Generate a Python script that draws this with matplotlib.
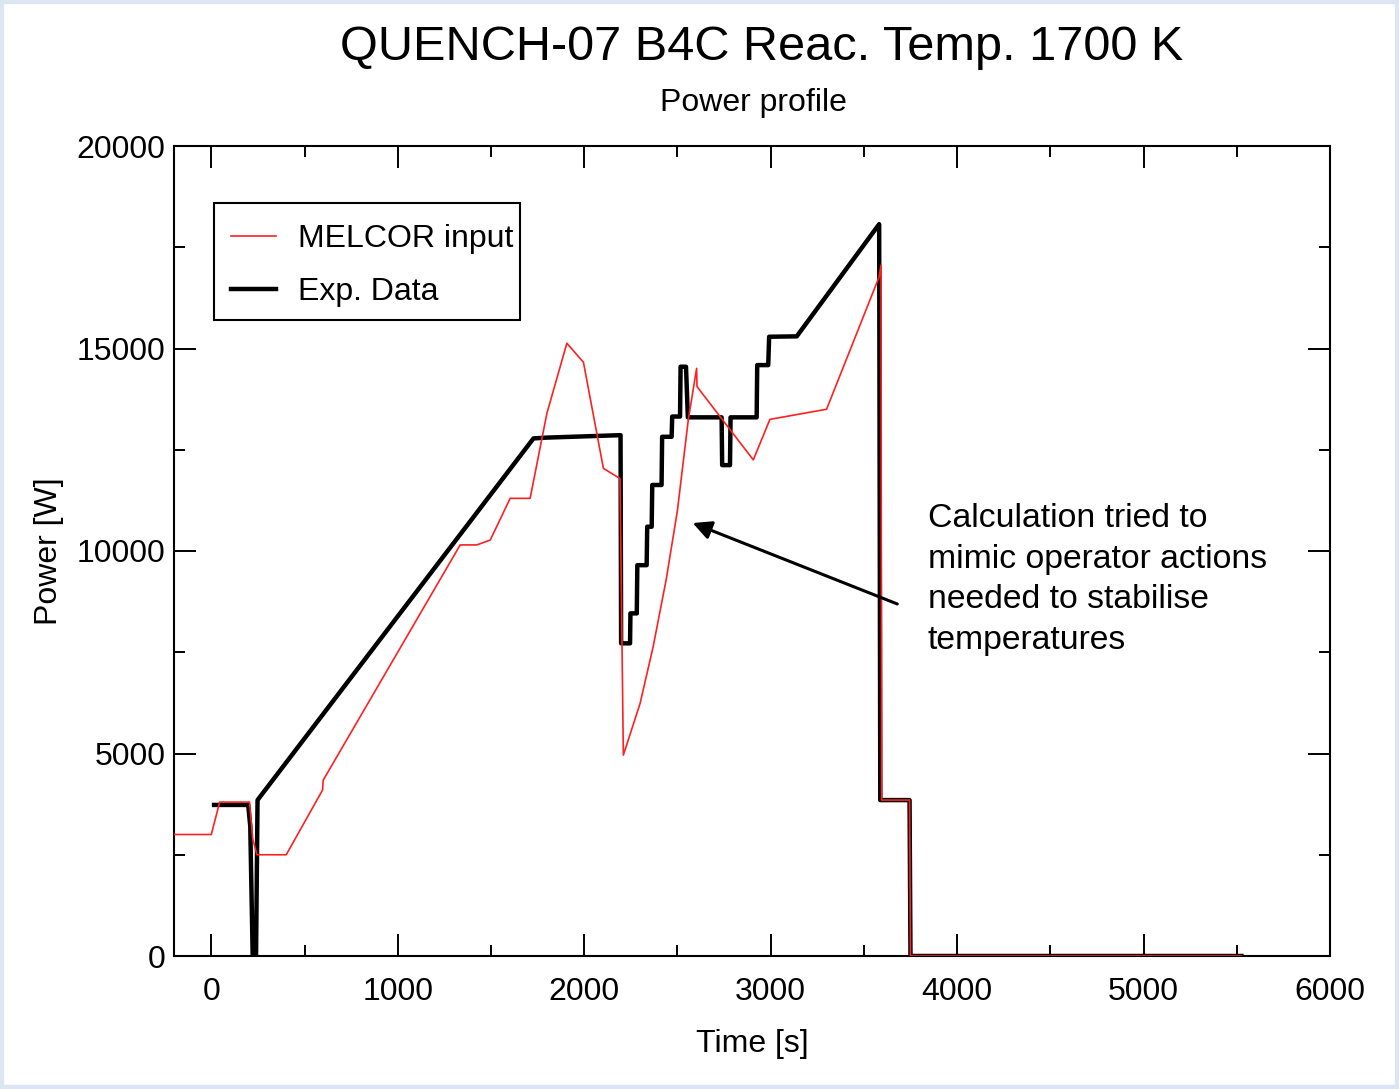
import matplotlib
matplotlib.use('Agg')
import matplotlib.pyplot as plt
from matplotlib.ticker import MultipleLocator
from matplotlib.patches import Rectangle

plt.rcParams['font.family'] = ['Liberation Sans', 'DejaVu Sans']

# MELCOR input power (W) vs time (s)
melcor_t = [-200, 0, 45, 205, 222, 245, 402, 597, 600, 1335, 1424, 1496, 1603, 1710,
            1800, 1907, 1996, 2103, 2192, 2210, 2300, 2370, 2440, 2500, 2558, 2603,
            2605, 2907, 2996, 3300, 3582, 3592, 3595, 3745, 3750, 5525]
melcor_p = [3000, 3000, 3800, 3800, 2900, 2500, 2500, 4100, 4340, 10150, 10150, 10270, 11300, 11300,
            13400, 15130, 14660, 12040, 11790, 4960, 6240, 7640, 9300, 11000, 13230, 14510,
            14060, 12250, 13250, 13500, 16770, 17060, 3850, 3850, 0, 0]

# experimental power (W) vs time (s)
exp_t = [15, 198, 209, 222, 240, 248, 1728, 1800, 2195, 2198, 2246, 2248, 2282, 2285,
         2335, 2338, 2362, 2365, 2415, 2418, 2469, 2472, 2514, 2517, 2546, 2556, 2737,
         2740, 2782, 2785, 2925, 2928, 2987, 2992, 3140, 3582, 3588, 3745, 3750, 5525]
exp_p = [3730, 3730, 3200, 0, 0, 3850, 12780, 12800, 12860, 7720, 7720, 8460, 8460, 9650,
         9650, 10600, 10600, 11630, 11630, 12820, 12820, 13320, 13320, 14550, 14550, 13300, 13300,
         12120, 12120, 13300, 13300, 14590, 14590, 15290, 15300, 18070, 3850, 3850, 0, 0]

W, H = 1399, 1089
fig = plt.figure(figsize=(W / 100, H / 100), dpi=100)
ax = fig.add_axes([174 / W, 1 - 956 / H, (1330 - 174) / W, (956 - 146) / H])

ax.plot(exp_t, exp_p, color='black', lw=3.2, label='Exp. Data', zorder=2)
ax.plot(melcor_t, melcor_p, color='#ff2020', lw=1.2, label='MELCOR input', zorder=3)

ax.set_xlim(-200, 6000)
ax.set_ylim(0, 20000)
ax.xaxis.set_major_locator(MultipleLocator(1000))
ax.xaxis.set_minor_locator(MultipleLocator(500))
ax.yaxis.set_major_locator(MultipleLocator(5000))
ax.yaxis.set_minor_locator(MultipleLocator(2500))
ax.tick_params(which='both', direction='in', top=True, right=True, width=1.4, labelsize=23)
ax.tick_params(which='major', length=16)
ax.tick_params(which='minor', length=8)
ax.tick_params(axis='x', pad=15)
ax.tick_params(axis='y', pad=6)
for s in ax.spines.values():
    s.set_linewidth(1.5)

ax.set_xlabel('Time [s]', fontsize=23, labelpad=16)
ax.set_ylabel('Power [W]', fontsize=23, labelpad=9)

# legend entries without frame, box drawn separately
handles, labels = ax.get_legend_handles_labels()
leg = ax.legend(handles[::-1], labels[::-1], loc='upper left', bbox_to_anchor=(0.0381, 0.9197),
                borderaxespad=0, fontsize=23, frameon=False,
                handlelength=1.4, handletextpad=0.7, labelspacing=0.73, borderpad=0.4)
ax.add_patch(Rectangle((0.0346, 0.7852), 0.2647, 0.1444, transform=ax.transAxes,
                       fill=False, edgecolor='black', lw=1.5, zorder=5))

ax.annotate('', xy=(2568, 10716), xytext=(3693, 8667),
            arrowprops=dict(arrowstyle='-|>', color='black', lw=2.2, mutation_scale=28))

fig.text(928 / W, 1 - 503 / H,
         'Calculation tried to\nmimic operator actions\nneeded to stabilise\ntemperatures',
         fontsize=24.3, ha='left', va='top', linespacing=1.4)

fig.text(762 / W, 1 - 47 / H, 'QUENCH-07 B4C Reac. Temp. 1700 K', fontsize=35, ha='center', va='center')
fig.text(753 / W, 1 - 103 / H, 'Power profile', fontsize=23, ha='center', va='center')

fig.patches.append(Rectangle((0, 0), 1, 1, transform=fig.transFigure, fill=False,
                             edgecolor='#dce6f2', lw=6))

fig.savefig('out.png', dpi=100)
